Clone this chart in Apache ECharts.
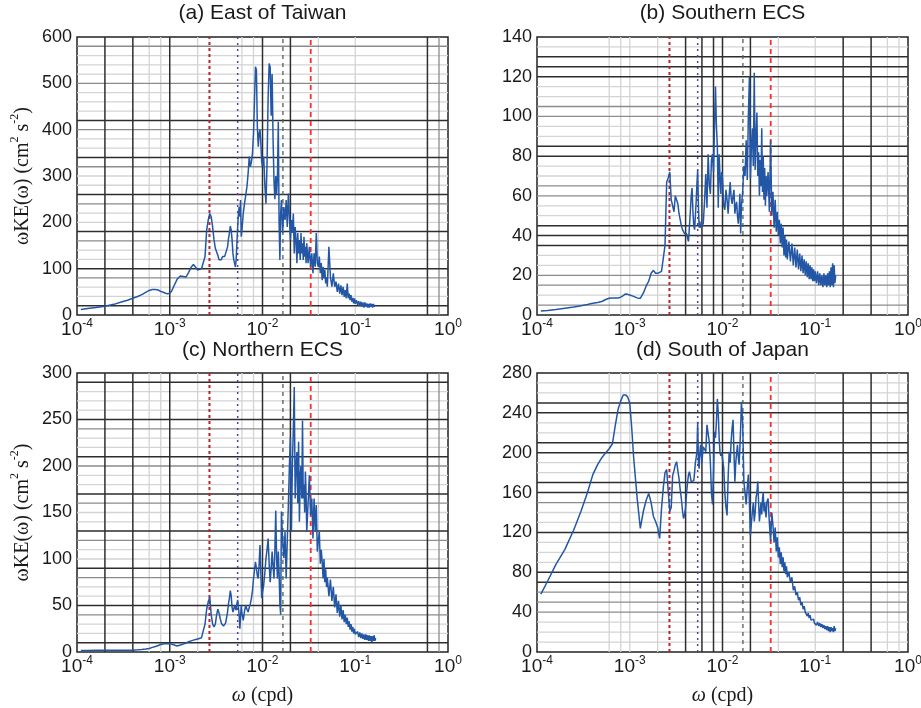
<!DOCTYPE html>
<html><head><meta charset="utf-8">
<script src="https://cdn.jsdelivr.net/npm/echarts@6.0.0/dist/echarts.min.js"></script>
<style>html,body{margin:0;padding:0;background:#fff}#c{width:921px;height:708px}</style>
</head><body><div id="c"></div>
<script>
// Frequency (milli-cycles per day)
const freqMcpd = [
  0.11,0.13,0.16,0.20,0.25,0.30,0.35,0.40,0.45,0.50,0.55,0.60,0.65,0.70,0.75,0.80,0.85,0.90,0.95,1.00,
  1.05,1.1,1.2,1.3,1.4,1.5,1.6,1.7,1.8,1.9,2.0,2.1,2.2,2.3,2.4,2.5,
  2.6,2.7,2.8,2.9,3.0,3.1,3.2,3.3,3.4,3.5,3.6,3.7,3.8,3.9,4.0,4.1,4.2,4.3,4.4,4.5,4.6,4.7,4.8,4.9,5.0,5.1,5.2,5.3,5.4,5.5,5.6,5.7,5.8,5.9,6.0,
  6.2,6.4,6.6,6.8,7.0,7.2,7.4,7.6,7.8,8.0,8.2,8.4,8.6,8.8,9.0,9.2,9.4,9.6,9.8,10.0,
  10.3,10.6,10.9,11.2,11.5,11.8,12.1,12.4,12.7,13.0,13.3,13.6,13.9,14.2,14.5,14.8,15.1,15.4,15.7,16.0,
  16.5,17,17.5,18,18.5,19,19.5,20,20.5,21,21.5,22,22.5,23,23.5,24,24.5,25,25.5,26,26.5,27,27.5,28,28.5,29,29.5,30,
  31,32,33,34,35,36,37,38,39,40,41,42,43,44,45,46,47,48,49,50,
  52,54,56,58,60,62,64,66,68,70,72,74,76,78,80,82,84,86,88,90,92,94,96,98,100,
  103,106,109,112,115,118,121,124,127,130,133,136,139,142,145,148,151,154,157,160,163,166
];

// ωKE(ω) values (cm^2 s^-2)
const keEastTaiwan = [
  12,14,16,19,23,28,32,36,40,44,49,53,55,55,54,51,49,47,46,47,52,61,77,84,83,82,92,103,109,103,97,100,100,104,126,183,
  205,219,212,190,162,144,140,129,119,115,119,126,123,126,133,140,147,165,177,192,183,162,133,119,112,104,119,155,190,219,233,212,248,169,183,
  219,241,259,277,306,342,320,331,349,392,464,536,529,406,363,392,400,371,331,320,
  342,280,240,330,470,543,535,430,520,380,290,250,300,260,300,417,200,119,220,248,
  177,233,205,248,190,262,212,162,205,177,219,133,190,162,112,177,133,162,119,177,133,155,119,169,126,147,112,155,
  112,147,104,133,90,133,104,177,112,104,126,90,112,75,104,79,97,68,82,61,
  147,82,61,90,61,72,50,68,46,64,43,61,39,54,36,68,36,46,32,43,29,37,25,36,24,
  32,22,30,19,29,18,27,16,27,18,25,16,24,16,25,18,24,16,24,18,22,19
];
const keSouthernECS = [
  2,2.3,2.8,3.4,4,4.7,5.3,5.9,6.3,6.8,7.8,8.4,8.5,8.5,8.6,9,9.8,10.6,10.4,10.1,9.8,9.4,8.6,8.4,11,14.5,17,21,22.5,21,21,21.5,22,23,35,67,
  69,72,58,55,52,60,60,56,51,50,45,43,42,41,42,41,40,37,38,52,60,64,52,45,43,50,57,66,73,55,44,47,44,45,45,
  46,57,71,54,81,66,61,78,81,72,95,115,95,85,54,81,70,61,72,69,
  55,53,63,58,51,60,67,59,56,60,63,51,55,57,50,46,52,61,41,55,
  62,75,70,88,68,100,120,69,85,94,75,122,73,90,102,70,82,60,78,65,94,62,80,58,74,55,70,60,
  72,52,88,50,62,44,58,42,52,40,48,36,46,34,44,30,40,29,38,28,
  37,27,36,25,34,24,33,23,31,22,30,21,28,20,27,19,26,18,25,18,24,17,23,17,22,
  16,22,15,21,15,20,14,21,15,20,14,21,15,22,14,24,15,26,14,25,16,20
];
const keNorthernECS = [
  1.5,1.7,1.9,2,2,2,2,2,2.3,2.6,3.2,3.8,5,6,7,8,8.7,9,9.2,9,8.5,7.8,6.5,7.5,8.5,9.7,11,12,12.8,13.5,14,14.5,15.4,17,30,46,
  54,59,40,30,27,30,40,46,42,36,31,29,28,28,31,37,43,52,58,66,60,48,43,46,50,49,45,52,56,58,40,25,38,50,42,
  34,44,50,46,43,48,52,58,66,79,88,97,90,82,79,95,115,85,58,64,
  72,85,101,110,122,95,75,90,108,92,79,110,152,100,79,108,85,52,40,151,
  120,101,129,79,120,158,200,230,129,201,240,285,165,200,215,160,226,140,190,200,165,249,165,180,150,194,170,129,
  160,190,147,165,122,165,130,158,108,120,129,95,110,97,79,100,75,89,70,80,
  60,78,55,70,48,62,42,55,38,50,35,45,32,40,30,37,27,33,24,30,22,27,20,25,19,
  17,22,16,21,15,20,14,19,13,19,13,18,12,18,12,17,11,17,12,18,12,15
];
const keSouthJapan = [
  58,71,88,103,123,142,160,178,188,195,200,204,209,228,244,252,258,258,256,250,225,196,155,124,141,152,159,150,136,131,125,114,144,165,180,183,
  181,141,145,177,182,188,191,182,174,163,154,142,134,138,145,160,170,178,181,176,171,170,171,172,180,190,195,201,231,190,184,200,208,198,191,
  206,204,201,228,228,211,190,160,148,180,221,215,231,254,240,215,200,197,200,201,
  185,160,145,137,175,201,190,212,225,233,200,171,190,200,208,195,188,205,225,251,
  230,171,160,148,165,178,150,117,130,141,150,131,140,155,160,171,150,131,140,150,138,154,160,141,150,141,135,150,
  154,130,111,140,127,110,125,101,115,95,105,88,100,85,95,81,90,78,86,75,
  80,70,75,62,66,57,60,52,55,47,50,43,46,40,42,36,39,34,37,32,34,30,33,29,31,
  27,30,26,29,25,28,24,27,23,26,22,26,21,25,20,25,21,24,20,26,21,24
];

const panelTitles = ['(a) East of Taiwan', '(b) Southern ECS', '(c) Northern ECS', '(d) South of Japan'];
const panelSeries = [keEastTaiwan, keSouthernECS, keNorthernECS, keSouthJapan];
const yMaxes = [600, 140, 300, 280];
const yIntervals = [100, 20, 50, 40];
// reference frequencies (cpd): ~annual, ~semiannual, 60-day, 30-day
const referenceFreq = [0.00268, 0.0054, 0.0166, 0.0331];

panelSeries.forEach((a, i) => { if (a.length !== freqMcpd.length) throw new Error('length mismatch panel ' + i + ': ' + a.length + ' vs ' + freqMcpd.length); });

// ---- layout / style (not data) ----
const grids = [
  {left: 77, top: 37, width: 371, height: 278},
  {left: 537, top: 37, width: 371, height: 278},
  {left: 77, top: 373, width: 371, height: 279},
  {left: 537, top: 373, width: 371, height: 279}
];
const titleTops = [3, 3, 340, 340];
const gridV = {
  ac: {dark: [2e-4, 4e-4, 1e-3, 1e-2, 2e-2, 0.6], mid: [0.8], light: [6e-4, 8e-4, 2e-3, 6e-3, 8e-3, 4e-2, 0.1]},
  bd: {dark: [4e-3, 6e-3, 8e-3, 1e-2, 2e-2, 0.2, 0.4], mid: [], light: [6e-4, 8e-4, 1e-3, 2e-3, 4e-2, 0.1, 0.6, 0.8]}
};
const hDark = [[420,340,260,180,100,20],[130,125,120,85,80,45,40,35],[290,250,210,170,130,90,50,10],[250,240,210,200,170,160,120,80,70]];
const hMid = [[580,500,400,320,240,160,80],[105,100,65,60,20,15,5],[240,200,160,120,80,40],[150,60,50,40]];
const hStep = [20, 5, 10, 10];
const refStyles = [
  {color: '#b3262b', width: 2, type: [3, 3]},
  {color: '#5c3d9e', width: 1.5, type: [2, 4]},
  {color: '#4f5f50', width: 1.3, type: [4, 4]},
  {color: '#ff2a2a', width: 1.8, type: [5, 4]}
];
const TXT = '#1a1a1a';

function segs(vx, hy, ymax) {
  const d = [];
  vx.forEach(x => { d.push([x, 0], [x, ymax], ['-', '-']); });
  hy.forEach(y => { d.push([1e-4, y], [1, y], ['-', '-']); });
  return d;
}

const option = {
  animation: false,
  backgroundColor: '#fff',
  title: panelTitles.map((t, i) => ({
    text: t, left: grids[i].left + grids[i].width / 2, top: titleTops[i], textAlign: 'center', padding: 0,
    textStyle: {fontSize: 21, fontWeight: 'normal', fontFamily: 'Liberation Sans', color: TXT}
  })),
  grid: grids.map(g => Object.assign({show: true, borderColor: '#222', borderWidth: 1.5, outerBoundsMode: 'none', containLabel: false}, g)),
  xAxis: grids.map((g, i) => ({
    type: 'log', logBase: 10, gridIndex: i, min: 1e-4, max: 1,
    axisLine: {show: false}, axisTick: {show: false}, splitLine: {show: false}, minorSplitLine: {show: false},
    axisLabel: {
      margin: 3,
      formatter: v => '{b|10}{s|' + String(Math.round(Math.log10(v))) + '}',
      rich: {
        b: {fontSize: 19, fontFamily: 'Liberation Sans', color: TXT, lineHeight: 21, verticalAlign: 'bottom'},
        s: {fontSize: 12, fontFamily: 'Liberation Sans', color: TXT, lineHeight: 12, verticalAlign: 'top'}
      }
    },
    name: i >= 2 ? '{w|ω}{t| (cpd)}' : '',
    nameLocation: 'middle', nameGap: 34, nameMoveOverlap: false,
    nameTextStyle: {rich: {
      w: {fontSize: 20, fontFamily: 'Liberation Serif', fontStyle: 'italic', color: TXT},
      t: {fontSize: 20, fontFamily: 'Liberation Serif', color: TXT}
    }}
  })),
  yAxis: grids.map((g, i) => ({
    type: 'value', gridIndex: i, min: 0, max: yMaxes[i], interval: yIntervals[i],
    axisLine: {show: false}, axisTick: {show: false}, splitLine: {show: false},
    axisLabel: {margin: 5, fontSize: 18, fontFamily: 'Liberation Sans', color: TXT},
    name: i % 2 === 0 ? '{t|ωKE(ω) (cm}{s|2}{t| s}{s|-2}{t|)}' : '',
    nameLocation: 'middle', nameGap: 44, nameRotate: 90, nameMoveOverlap: false,
    nameTextStyle: {rich: {
      t: {fontSize: 20, fontFamily: 'Liberation Serif', color: TXT, lineHeight: 24, verticalAlign: 'bottom'},
      s: {fontSize: 12, fontFamily: 'Liberation Serif', color: TXT, lineHeight: 12, verticalAlign: 'top'}
    }}
  })),
  series: []
};

grids.forEach((g, i) => {
  const gv = (i % 2 === 0) ? gridV.ac : gridV.bd;
  const ymax = yMaxes[i];
  const lightH = [];
  for (let y = hStep[i]; y < ymax; y += hStep[i]) {
    if (hDark[i].indexOf(y) < 0 && hMid[i].indexOf(y) < 0) lightH.push(y);
  }
  const common = {type: 'line', xAxisIndex: i, yAxisIndex: i, symbol: 'none', silent: true, connectNulls: false};
  option.series.push(Object.assign({}, common, {z: 1, data: segs(gv.light, lightH, ymax), lineStyle: {color: '#d4d4d4', width: 1.3}}));
  option.series.push(Object.assign({}, common, {z: 1, data: segs(gv.mid, hMid[i], ymax), lineStyle: {color: '#8c8c8c', width: 1.3}}));
  option.series.push(Object.assign({}, common, {z: 1, data: segs(gv.dark, hDark[i], ymax), lineStyle: {color: '#2e2e2e', width: 1.5}}));
  referenceFreq.forEach((f, k) => {
    option.series.push(Object.assign({}, common, {z: 2, data: [[f, 0], [f, ymax]], lineStyle: refStyles[k]}));
  });
  option.series.push(Object.assign({}, common, {
    z: 4, name: panelTitles[i],
    data: freqMcpd.map((f, k) => [f / 1000, panelSeries[i][k]]),
    lineStyle: {color: '#2357a6', width: 1.5}
  }));
});

const chart = echarts.init(document.getElementById('c'), null, {renderer: 'canvas'});
chart.setOption(option);
</script>
</body></html>
